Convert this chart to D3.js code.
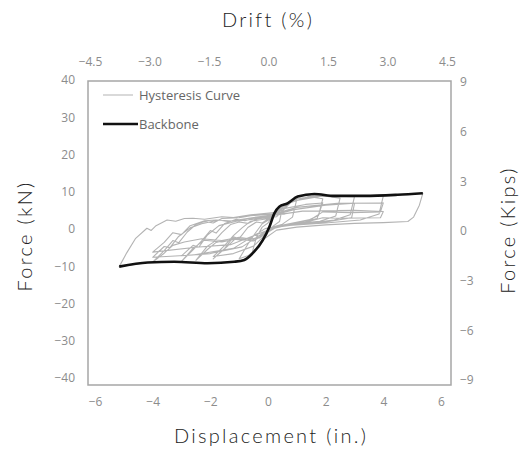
<!DOCTYPE html>
<html>
<head>
<meta charset="utf-8">
<script src="https://cdn.jsdelivr.net/npm/d3@7"></script>
<style>
  body { margin: 0; background: #fff; }
  text { font-family: 'Open Sans', sans-serif; }
</style>
</head>
<body>
<script>
const wid = 526, hei = 457;

// tick labels
const dispTicks = [-6, -4, -2, 0, 2, 4, 6];
const driftTicks = [-4.5, -3.0, -1.5, 0.0, 1.5, 3.0, 4.5];
const kNTicks = [40, 30, 20, 10, 0, -10, -20, -30, -40];
const kipTicks = [9, 6, 3, 0, -3, -6, -9];

// backbone: [displacement (in.), force (kN)]
const backbone = [
    [-5.16, -10.1], [-4.17, -9.0], [-3.25, -8.8], [-2.09, -9.2], [-1.17, -8.8],
    [-0.82, -8.3], [-0.48, -6.1], [-0.18, -3.0], [0.05, 0.6], [0.22, 4.2],
    [0.39, 6.0], [0.68, 6.9], [1.03, 8.7], [1.61, 9.4], [2.30, 8.9],
    [3.34, 8.9], [4.50, 9.2], [5.37, 9.6]
];

// hysteresis record, cycle by cycle
const hysteresis = [
    // +-0.5
    [0, 0], [0.15, 2.5], [0.3, 4.8], [0.5, 5.8], [0.4, 2.0], [0.2, 0.9], [0.0, -0.6],
    [-0.2, -3.5], [-0.4, -5.5], [-0.55, -6.4], [-0.4, -2.2], [-0.2, 0.5], [0.0, 1.6],
    // +-1.0
    [0.25, 4.5], [0.6, 6.8], [1.0, 8.0], [0.85, 3.2], [0.5, 1.3], [0.1, 0.4],
    [-0.3, -4.8], [-0.7, -7.2], [-1.0, -8.0], [-0.7, -4.1], [-0.45, -1.2], [-0.2, 1.4], [0.1, 2.8],
    // +-1.9
    [0.4, 6.2], [1.0, 8.2], [1.5, 8.6], [1.9, 8.1], [1.75, 3.6], [1.3, 2.0], [0.7, 1.3], [0.1, 0.3],
    [-0.3, -2.2], [-0.7, -2.9], [-1.1, -2.4], [-1.4, -4.6], [-1.9, -8.0], [-1.5, -5.2],
    [-1.2, -2.1], [-1.0, -2.6], [-0.7, 0.4], [-0.4, 1.9], [-0.2, 1.6], [0.05, 3.0],
    [0.5, 5.4], [1.3, 6.6], [1.9, 7.0], [1.7, 2.8], [1.0, 1.4], [0.2, 0.6],
    [-0.5, -4.6], [-1.2, -6.6], [-1.9, -7.4], [-1.5, -4.4], [-1.2, -1.8], [-0.9, 0.3],
    [-0.6, 2.1], [0.1, 2.9],
    // +-2.5
    [0.6, 6.6], [1.4, 8.7], [2.0, 8.8], [2.5, 8.3], [2.35, 3.5], [1.8, 2.1], [1.0, 1.5], [0.2, 0.4],
    [-0.3, -2.4], [-0.9, -3.0], [-1.3, -2.6], [-1.8, -3.6], [-2.1, -5.5], [-2.5, -8.4],
    [-2.1, -4.6], [-1.9, -3.6], [-1.6, -1.0], [-1.3, 1.2], [-1.0, 1.9], [-0.7, 1.5],
    [-0.4, 2.6], [0.1, 3.4],
    // +-3.0
    [0.7, 7.0], [1.6, 8.9], [2.4, 8.8], [3.0, 8.7], [2.85, 3.8], [2.3, 2.4], [1.4, 1.6], [0.3, 0.5],
    [-0.5, -3.2], [-1.1, -2.7], [-1.6, -3.5], [-2.2, -3.0], [-2.6, -5.2], [-3.0, -8.7],
    [-2.6, -5.6], [-2.3, -3.2], [-2.0, -0.4], [-1.8, -1.1], [-1.5, 1.5], [-1.1, 2.6],
    [-0.8, 2.2], [-0.4, 3.1], [0.15, 3.6],
    [0.9, 5.2], [2.0, 6.4], [3.0, 6.9], [2.9, 3.0], [2.0, 1.9], [0.8, 1.1], [0.1, 0.2],
    [-0.9, -4.8], [-2.0, -6.6], [-3.0, -7.2], [-2.6, -4.4], [-2.4, -4.9], [-2.1, -1.6],
    [-1.7, 0.9], [-1.2, 1.9], [-0.7, 2.8], [0.2, 3.3],
    // +-4.0
    [0.8, 7.4], [1.9, 8.9], [3.0, 8.9], [4.0, 8.9], [3.85, 4.0], [3.2, 2.4], [2.0, 1.6], [0.6, 0.9],
    [0.0, -0.2], [-0.5, -2.8], [-1.0, -2.2], [-1.6, -3.1], [-2.3, -2.6], [-2.9, -3.5],
    [-3.3, -4.4], [-3.6, -6.5], [-4.0, -8.9], [-3.6, -5.8], [-3.3, -3.1], [-3.1, -3.7],
    [-2.8, -0.8], [-2.5, 1.2], [-2.2, 2.0], [-1.9, 1.6], [-1.6, 2.8], [-1.0, 3.0],
    [-0.6, 3.6], [0.2, 4.0],
    [1.0, 5.8], [2.4, 6.9], [4.0, 7.0], [3.9, 4.6], [2.9, 4.4], [1.9, 4.6], [1.5, 2.6], [0.6, 1.2],
    [-0.1, 0.1], [-1.2, -5.2], [-2.6, -7.0], [-4.0, -7.6], [-3.6, -4.7], [-3.4, -5.0],
    [-3.1, -2.0], [-2.7, 0.3], [-2.3, 1.4], [-1.7, 2.4], [-1.4, 2.0], [-0.5, 3.1], [0.3, 3.8],
    [1.2, 4.8], [3.0, 5.0], [4.0, 4.7], [3.9, 3.0], [2.5, 2.9], [1.9, 3.0], [1.2, 1.6], [0.3, 0.6],
    [-1.3, -4.2], [-2.5, -4.9], [-4.0, -6.2], [-3.6, -3.6], [-3.3, -1.0], [-3.0, -1.5],
    [-2.7, 0.9], [-2.2, 2.2], [-1.8, 2.4], [-1.1, 2.1], [0.3, 3.3],
    // outer loop
    [1.0, 8.7], [1.6, 9.4], [2.3, 8.9], [3.3, 8.9], [4.5, 9.2], [5.37, 9.6], [5.25, 6.4],
    [5.05, 3.2], [4.85, 2.0], [4.0, 1.7], [3.0, 1.5], [2.0, 1.1], [1.0, 0.5], [0.3, -0.3],
    [-0.2, -3.0], [-0.5, -6.1], [-0.8, -8.3], [-1.2, -8.8], [-2.1, -9.2], [-3.2, -8.8],
    [-4.2, -9.0], [-5.16, -10.1], [-4.9, -6.4], [-4.6, -2.6], [-4.2, 0.2], [-4.05, -0.4],
    [-3.9, 0.8], [-3.5, 2.4], [-3.2, 2.1], [-2.9, 2.8], [-2.6, 2.9], [-2.2, 2.6],
    [-1.6, 3.3], [-1.2, 3.1], [-0.6, 3.8], [0.2, 4.4], [0.6, 4.0]
];

// plot frame
const box = {left: 88, right: 451, top: 81, bottom: 385};

const x = d3.scaleLinear().domain([-6, 6]).range([95, 441]);
const drift = d3.scaleLinear().domain([-4.5, 4.5]).range([90, 447]);
const y = d3.scaleLinear().domain([-40, 40]).range([378, 80]);
const kips = d3.scaleLinear().domain([-9, 9]).range([380, 82]);

let svg = d3.select('body')
    .append('svg')
    .attr('width', wid)
    .attr('height', hei);

// frame
svg.append('rect')
    .attr('x', box.left)
    .attr('y', box.top)
    .attr('width', box.right - box.left)
    .attr('height', box.bottom - box.top)
    .attr('fill', 'none')
    .attr('stroke', '#a6a6a6')
    .attr('stroke-width', 1.5);

function styleAxis(g) {
    g.select('.domain').remove();
    g.selectAll('text')
        .attr('fill', '#8c8c8c')
        .style('font-size', '12px')
        .style('font-family', "'Open Sans', sans-serif");
}

svg.append('g')
    .attr('transform', `translate(0,${box.bottom})`)
    .call(d3.axisBottom(x).tickValues(dispTicks).tickSize(0).tickPadding(12))
    .call(styleAxis);

svg.append('g')
    .attr('transform', `translate(0,${box.top})`)
    .call(d3.axisTop(drift).tickValues(driftTicks).tickSize(0).tickPadding(15)
        .tickFormat(d3.format('.1f')))
    .call(styleAxis);

svg.append('g')
    .attr('transform', `translate(${box.left},0)`)
    .call(d3.axisLeft(y).tickValues(kNTicks).tickSize(0).tickPadding(13))
    .call(styleAxis);

svg.append('g')
    .attr('transform', `translate(${box.right},0)`)
    .call(d3.axisRight(kips).tickValues(kipTicks).tickSize(0).tickPadding(9))
    .call(styleAxis);

const line = d3.line()
    .x((d) => x(d[0]))
    .y((d) => y(d[1]));

svg.append('path')
    .datum(hysteresis)
    .attr('d', line)
    .attr('fill', 'none')
    .attr('stroke', '#b3b3b3')
    .attr('stroke-width', 1.1)
    .attr('stroke-linejoin', 'round');

svg.append('path')
    .datum(backbone)
    .attr('d', line.curve(d3.curveMonotoneX))
    .attr('fill', 'none')
    .attr('stroke', '#111')
    .attr('stroke-width', 2.6);

// legend
const legend = [
    {name: 'Hysteresis Curve', color: '#c0c0c0', w: 1.2, x2: 133, ly: 95},
    {name: 'Backbone', color: '#111', w: 2.6, x2: 138, ly: 124}
];
let leg = svg.selectAll('.leg')
    .data(legend)
    .enter()
    .append('g')
    .attr('class', 'leg');
leg.append('line')
    .attr('x1', 103)
    .attr('x2', (d) => d.x2)
    .attr('y1', (d) => d.ly)
    .attr('y2', (d) => d.ly)
    .attr('stroke', (d) => d.color)
    .attr('stroke-width', (d) => d.w);
leg.append('text')
    .attr('x', 139)
    .attr('y', (d) => d.ly)
    .attr('dy', '0.35em')
    .attr('fill', '#666')
    .style('font-size', '13px')
    .text((d) => d.name);

// axis titles
function title(t, tx, ty, rot) {
    svg.append('text')
        .attr('transform', `translate(${tx},${ty}) rotate(${rot})`)
        .attr('text-anchor', 'middle')
        .attr('dy', '0.35em')
        .attr('fill', '#222')
        .style('font-size', '20px')
        .style('font-weight', 300)
        .style('font-family', "Lato, sans-serif")
        .style('letter-spacing', '2.3px')
        .text(t);
}
title('Drift (%)', 268, 20, 0);
title('Displacement (in.)', 271, 436, 0);
title('Force (kN)', 25, 236, -90);
title('Force (Kips)', 508, 230, -90);
</script>
</body>
</html>
